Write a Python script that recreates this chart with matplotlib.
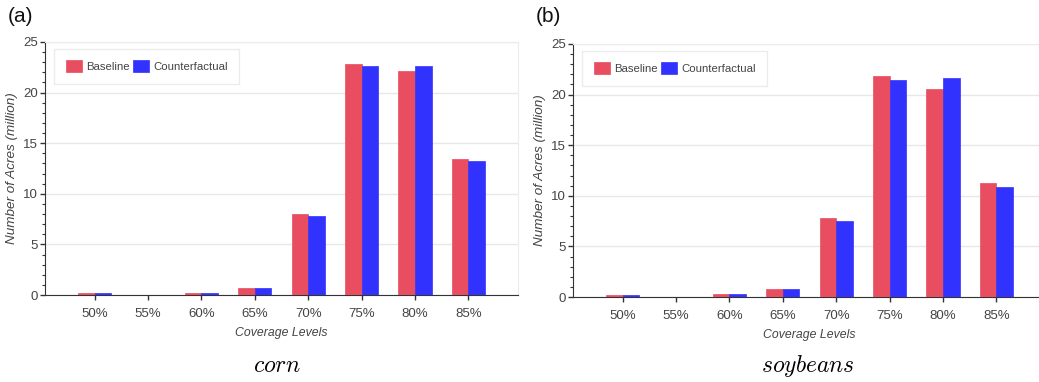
import numpy as np
import matplotlib.pyplot as plt
from matplotlib.ticker import MultipleLocator

plt.rcParams['font.family'] = ['Liberation Sans', 'DejaVu Sans']
plt.rcParams['mathtext.fontset'] = 'cm'

levels = ['50%', '55%', '60%', '65%', '70%', '75%', '80%', '85%']

corn_base = [0.15, 0.02, 0.2, 0.65, 8.0, 22.8, 22.1, 13.4]
corn_cf = [0.15, 0.02, 0.2, 0.65, 7.85, 22.6, 22.6, 13.25]

soy_base = [0.2, 0.02, 0.3, 0.8, 7.78, 21.8, 20.6, 11.3]
soy_cf = [0.2, 0.02, 0.3, 0.8, 7.54, 21.4, 21.65, 10.9]

red = '#e84d60'
blue = '#3232ff'
txt = '#444444'

fig = plt.figure(figsize=(10.39, 3.82), dpi=100)

panels = [
    (corn_base, corn_cf, [45/1039, 1-295/382, 473/1039, 253/382], '(a)', '$corn$', 277),
    (soy_base, soy_cf, [573/1039, 1-297/382, 473/1039, 253/382], '(b)', '$soybeans$', 808),
]

x = np.arange(len(levels))
w = 0.31

for base, cf, rect, tag, name, cx in panels:
    ax = fig.add_axes(rect)
    ax.bar(x - w/2, base, w, color=red, edgecolor=red, linewidth=0.5, label='Baseline', zorder=3)
    ax.bar(x + w/2, cf, w, color=blue, edgecolor=blue, linewidth=0.5, label='Counterfactual', zorder=3)
    ax.set_xlim(-0.93, 7.93)
    ax.set_ylim(0, 25)
    ax.set_xticks(x)
    ax.set_xticklabels(levels)
    ax.yaxis.set_major_locator(MultipleLocator(5))
    ax.yaxis.set_minor_locator(MultipleLocator(1))
    ax.grid(axis='y', color='#e8e8e8', linewidth=1, zorder=0)
    ax.tick_params(axis='both', which='major', direction='out', width=1,
                   color='#333333', labelsize=9.5, labelcolor=txt)
    ax.tick_params(axis='x', length=3.5, pad=6)
    ax.tick_params(axis='y', length=3.5, pad=1.5)
    ax.tick_params(axis='y', which='minor', direction='out', length=2.2, width=0.8, color='#333333')
    for s in ['top', 'right']:
        ax.spines[s].set_color('#ececec')
    for s in ['left', 'bottom']:
        ax.spines[s].set_color('#333333')
    ax.set_xlabel('Coverage Levels', style='italic', fontsize=8.8, color=txt, labelpad=5)
    ax.set_ylabel('Number of Acres (million)', style='italic', fontsize=9.7, color=txt, labelpad=4)
    leg = ax.legend(loc='upper left', bbox_to_anchor=(0.02, 0.972), ncol=2, fontsize=8.2,
                    handlelength=1.4, handleheight=1.2, handletextpad=0.35, columnspacing=0.35,
                    borderpad=1.0, borderaxespad=0, frameon=True, fancybox=False,
                    edgecolor='#ececec', framealpha=1)
    for t in leg.get_texts():
        t.set_color(txt)
    fig.text(rect[0] - 37/1039, 1 - 17/382, tag, fontsize=15, ha='left', va='center', color='#111111')
    fig.text(cx/1039, 1 - 366/382, name, fontsize=17, ha='center', va='center')

fig.savefig('out.png', dpi=100)
